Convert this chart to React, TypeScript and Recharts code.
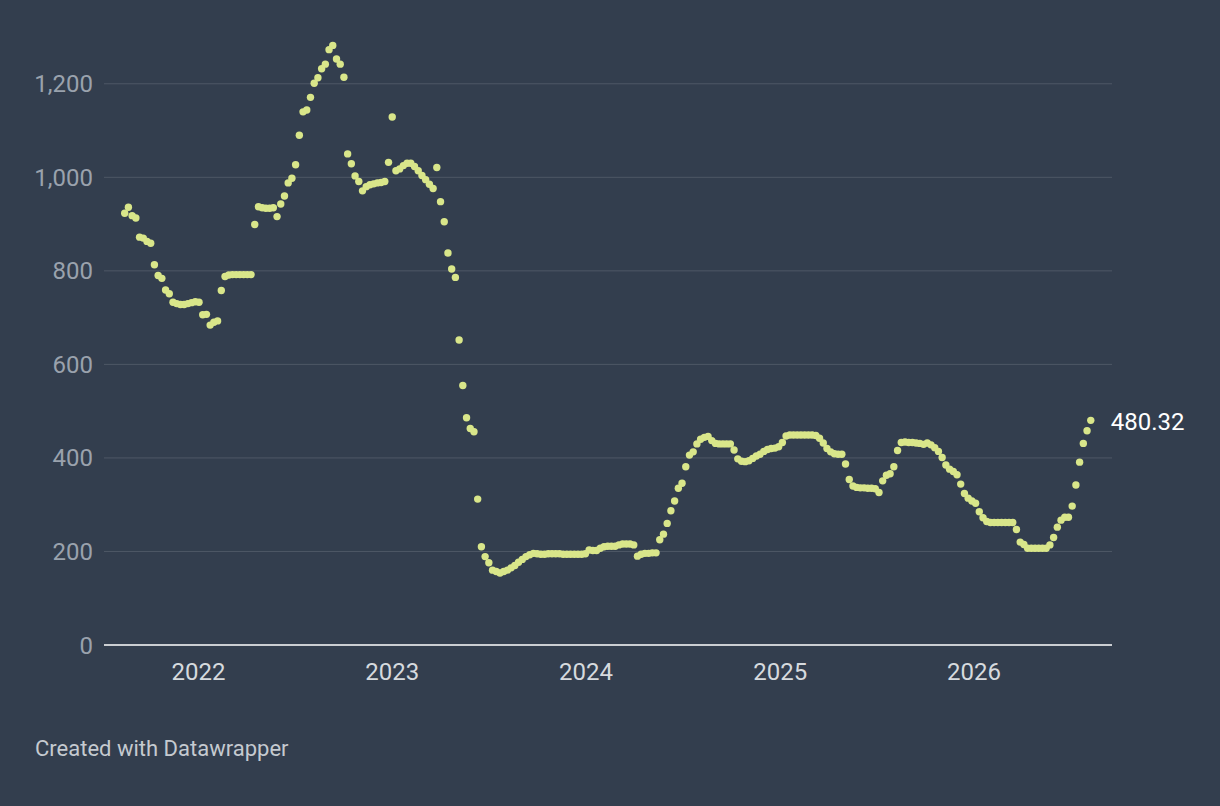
import { ScatterChart, Scatter, XAxis, YAxis, ReferenceLine } from "recharts";

// weekly closes, first week of mid-August 2021
const START = Date.UTC(2021, 7, 15);
const WEEK = 7 * 24 * 3600 * 1000;

const prices2021 = [
  923, 936, 918, 913, 872, 870, 863, 859, 813, 790, 784, 759, 751, 733, 730,
  728, 728, 730, 732, 734, 733, 706, 707, 684, 690, 693, 758, 788, 791, 792,
  792, 792, 792, 792, 792, 899, 937, 935, 934, 934, 935, 916, 943, 960, 988,
  998, 1027, 1090, 1140, 1144, 1171, 1201, 1213, 1232, 1242, 1273, 1282, 1253,
  1242, 1214, 1050, 1029, 1003, 991, 971, 980, 984, 986, 988, 989, 991, 1032,
  1129, 1014, 1018, 1025, 1030, 1030, 1023, 1014, 1004, 995, 985, 976, 1021,
  948, 905, 838, 804, 786, 652, 555, 486, 463, 456, 312, 210, 189, 176, 160,
];

const prices2023 = [
  157, 154, 157, 160, 165, 170, 177, 183, 189, 193, 196, 195, 194, 194, 195,
  195, 195, 195, 194, 194, 194, 194, 194, 194, 195, 203, 202, 202, 207, 210,
  211, 211, 211, 214, 216, 216, 216, 214, 190, 194, 196, 196, 197, 197, 225,
  237, 260, 287, 308, 335, 346, 381, 406, 413, 430, 440, 444, 446, 437, 431,
  430, 430, 430, 430, 417, 398, 393, 392, 394, 399, 404, 408, 414, 418, 420,
  421, 424, 433, 447, 449, 449, 449, 449, 449, 449, 449, 448, 442, 432, 420,
];

const prices2025 = [
  413, 409, 408, 408, 387, 354, 340, 337, 336, 336, 335, 335, 334, 326, 351,
  363, 366, 381, 416, 433, 434, 433, 433, 432, 431, 429, 432, 428, 422, 414,
  401, 385, 376, 371, 364, 344, 324, 314, 308, 303, 285, 272, 264, 262, 262,
  262, 262, 262, 262, 262, 247, 220, 215, 207, 207, 207, 207, 207, 207, 214,
  230, 252, 267, 273, 273, 297, 342, 391, 431, 458, 480.32,
];

const prices = [...prices2021, ...prices2023, ...prices2025];

const yearTicks = [2022, 2023, 2024, 2025, 2026];
const valueTicks = [0, 200, 400, 600, 800, 1000, 1200];

const data = prices.map((value, i) => ({
  date: START + i * WEEK,
  value,
  label: i === prices.length - 1 ? value.toFixed(2) : undefined,
}));

const BG = "#333e4e";
const DOT = "#d9e68a";
const FONT = "Roboto, 'Noto Sans', sans-serif";

function renderDot(props: any) {
  const { cx, cy, payload } = props;
  if (cx == null || cy == null) return <g />;
  return (
    <g>
      <circle cx={cx} cy={cy} r={3.7} fill={DOT} />
      {payload?.label && (
        <text
          x={cx + 20}
          y={cy + 10}
          fill="#ffffff"
          fontSize={24}
          fontFamily={FONT}
        >
          {payload.label}
        </text>
      )}
    </g>
  );
}

export default function App() {
  return (
    <div
      style={{
        position: "fixed",
        left: 0,
        top: 0,
        width: 1220,
        height: 806,
        background: BG,
        fontFamily: FONT,
      }}
    >
      <ScatterChart
        width={1220}
        height={806}
        margin={{ top: 37, right: 108, bottom: 121, left: 0 }}
      >
        {valueTicks
          .filter((v) => v > 0)
          .map((v) => (
            <ReferenceLine key={v} y={v} stroke="#4e5866" strokeWidth={1} />
          ))}
        <XAxis
          dataKey="date"
          type="number"
          domain={[Date.UTC(2021, 6, 7), Date.UTC(2026, 8, 18)]}
          ticks={yearTicks.map((y) => Date.UTC(y, 0, 1))}
          tickFormatter={(t) => String(new Date(t).getUTCFullYear())}
          interval={0}
          height={40}
          axisLine={{ stroke: "#ffffff", strokeWidth: 1.5 }}
          tickLine={false}
          tickSize={0}
          tickMargin={18}
          tick={{ fontSize: 24, fill: "#d6dade", fontFamily: FONT }}
        />
        <YAxis
          dataKey="value"
          type="number"
          domain={[0, 1300]}
          ticks={valueTicks}
          tickFormatter={(v) => Number(v).toLocaleString("en-US")}
          interval={0}
          width={104}
          axisLine={false}
          tickLine={false}
          tickSize={0}
          tickMargin={11}
          tick={{ fontSize: 24, fill: "#9aa2ad", fontFamily: FONT }}
        />
        <Scatter data={data} shape={renderDot} isAnimationActive={false} />
      </ScatterChart>
      <div
        style={{
          position: "absolute",
          left: 35,
          top: 738,
          fontSize: 22,
          lineHeight: 1,
          color: "#c5cad0",
        }}
      >
        Created with Datawrapper
      </div>
    </div>
  );
}
